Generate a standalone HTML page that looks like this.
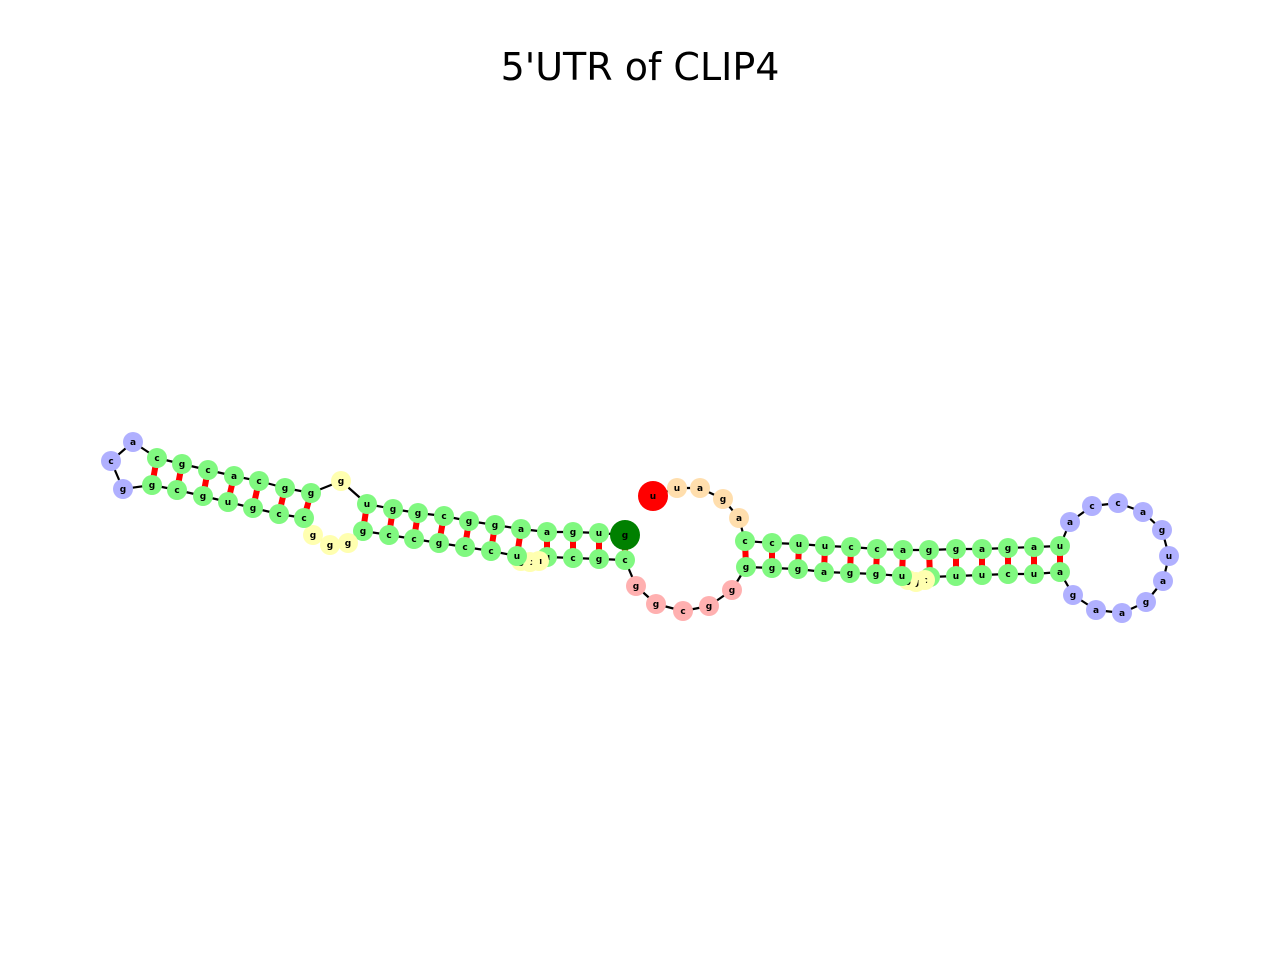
<!DOCTYPE html>
<html><head><meta charset="utf-8"><style>
html,body{margin:0;padding:0;background:#fff;}
svg{display:block;font-family:"DejaVu Sans","Liberation Sans",sans-serif;}
</style></head><body>
<svg id="chart" width="1280" height="960" viewBox="0 0 1280 960">
<text x="640" y="80" text-anchor="middle" font-size="38" fill="#000">5'UTR of CLIP4</text>
<g id="pairs"></g><g id="backbone"></g><g id="nodes"></g>
</svg>
<script>
const letters = ["u","u","a","g","a",
"c","c","u","u","c","c","a","g","g","a","g","a","u",
"a","c","c","a","g","u","a","g","a","a","g",
"a","u","c","u","u","u","c","g","g","u","g","g","a","g","g","g",
"g","g","c","g","g",
"c","g","c","u","u","c","g","u","c","c","g","c","c","g",
"g","g","g","c","c","g","u","g","c","g",
"g","c","a",
"c","g","c","a","c","g","g",
"g","u","g","g","c","g","g","a","a","g","u","g"];
const xs = [653,677,700,723,739,
745,772,799,825,851,877,903,929,956,982,1008,1034,1060,
1070,1092,1118,1143,1162,1169,1163,1146,1122,1096,1073,
1060,1034,1008,982,956,930,925,916,908,902,876,850,824,798,772,746,
732,709,683,656,636,
625,599,573,547,539,530,521,517,491,465,439,414,389,363,
348,330,313,304,279,253,228,203,177,152,
123,111,133,
157,182,208,234,259,285,311,
341,367,393,418,444,469,495,521,547,573,599,625];
const ys = [496,488,488,499,518,
541,543,544,546,547,549,550,550,549,549,548,547,546,
522,506,503,512,530,556,581,602,613,610,595,
572,574,574,575,576,577,580,582,580,576,574,573,572,569,568,567,
590,606,611,604,586,
560,559,558,557,561,562,561,556,551,547,543,539,535,531,
543,545,535,518,514,508,502,496,490,485,
489,461,442,
458,464,470,476,481,488,493,
481,504,509,513,516,521,525,529,532,532,533,535];
const types = "EFFFF"+"SSSSSSSSSSSSS"+"HHHHHHHHHHH"+"SSSSSSIIISSSSSSS"+"MMMMM"+"SSSSIIISSSSSSS"+"IIISSSSSSS"+"HHH"+"SSSSSSS"+"ISSSSSSSSSST";
const pairs = [[5,44],[6,43],[7,42],[8,41],[9,40],[10,39],[11,38],[12,34],[13,33],[14,32],[15,31],[16,30],[17,29],
[95,50],[94,51],[93,52],[92,53],[91,57],[90,58],[89,59],[88,60],[87,61],[86,62],[85,63],
[83,67],[82,68],[81,69],[80,70],[79,71],[78,72],[77,73]];
const colors = {E:"#ff0000",F:"#ffdead",S:"#80f880",H:"#b0b0ff",I:"#ffffb0",M:"#ffb0b0",T:"#008000"};
const NS="http://www.w3.org/2000/svg";
const gp=document.getElementById("pairs"),gb=document.getElementById("backbone"),gn=document.getElementById("nodes");
pairs.forEach(p=>{const l=document.createElementNS(NS,"line");


l.setAttribute("x1",xs[p[0]]);l.setAttribute("y1",ys[p[0]]);l.setAttribute("x2",xs[p[1]]);l.setAttribute("y2",ys[p[1]]);
l.setAttribute("stroke","#ff0000");l.setAttribute("stroke-width","6");gp.appendChild(l);});
for(let i=0;i<letters.length-1;i++){const l=document.createElementNS(NS,"line");


l.setAttribute("x1",xs[i]);l.setAttribute("y1",ys[i]);l.setAttribute("x2",xs[i+1]);l.setAttribute("y2",ys[i+1]);
l.setAttribute("stroke","#000");l.setAttribute("stroke-width","2.2");gb.appendChild(l);}
for(let i=0;i<letters.length;i++){const t=types[i];const g=document.createElementNS(NS,"g");


const c=document.createElementNS(NS,"circle");c.setAttribute("cx",xs[i]);c.setAttribute("cy",ys[i]);
c.setAttribute("r",(t==="E"||t==="T")?15:10);c.setAttribute("fill",colors[t]);g.appendChild(c);
const tx=document.createElementNS(NS,"text");tx.setAttribute("x",xs[i]);tx.setAttribute("y",ys[i]+3);
tx.setAttribute("text-anchor","middle");tx.setAttribute("font-size","9");tx.setAttribute("font-weight","bold");
tx.textContent=letters[i];g.appendChild(tx);gn.appendChild(g);}
</script>
</body></html>
